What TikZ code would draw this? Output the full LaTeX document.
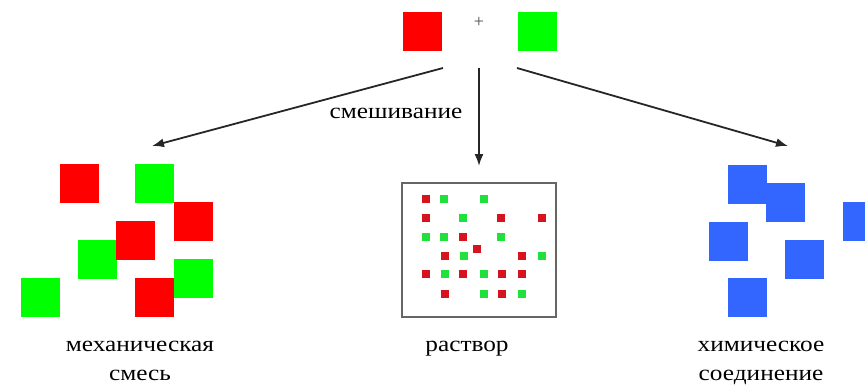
\documentclass[tikz,border=0pt]{standalone}
\usepackage{fontspec}
\setmainfont{Liberation Serif}
\newfontfamily\capfont[FakeStretch=1.15]{Liberation Serif}
\usetikzlibrary{arrows.meta}
\definecolor{sqred}{RGB}{255,0,0}
\definecolor{sqgreen}{RGB}{0,255,0}
\definecolor{sqblue}{RGB}{51,102,255}
\definecolor{dotred}{RGB}{215,20,30}
\definecolor{dotgreen}{RGB}{30,225,60}
\tikzset{
    >={Latex[length=12pt, width=9pt]},
    square/.style={shape=rectangle, minimum size=39pt, inner sep=0pt},
    redsq/.style={square, fill=sqred},
    greensq/.style={square, fill=sqgreen},
    bluesq/.style={square, fill=sqblue},
    dot/.style={shape=rectangle, minimum size=8pt, inner sep=0pt},
    flow/.style={->, line width=1.8pt, black!85},
    caption/.style={font=\capfont\fontsize{22}{29}\selectfont, align=center, anchor=base},
}
\begin{document}
\begin{tikzpicture}[x=1pt, y=-1pt]
    \useasboundingbox (0,0) rectangle (865,384);
    % reactants
    \node[redsq] (reactA) at (422,31) {};
    \node[text=black!70] (plus) at (479,22) {\fontsize{18}{18}\selectfont +};
    \node[greensq] (reactB) at (537,31) {};
    % mechanical mixture
    \foreach \name/\col/\x/\y in {m1/red/79/183.5, m2/green/154.5/183.5, m3/red/193/221.5,
        m4/green/97.5/259, m5/red/135.5/240.5, m6/green/193/278.5, m7/red/154.5/297.5,
        m8/green/40.5/297.5}
        \node[\col sq] (\name) at (\x,\y) {};
    % solution
    \node[draw=black!60, line width=1.5pt, minimum width=154pt, minimum height=134pt,
        inner sep=0pt] (sol) at (479,250) {};
    \foreach \col/\x/\y [count=\i] in {red/426/199, green/444/199, green/484/199,
        red/426/218, green/463/218, red/501/218, red/542/218,
        green/426/237, green/444/237, red/463/237, green/501/237,
        red/477/249,
        red/445/256, green/464/256, red/522/256, green/542/256,
        red/426/274, green/445/274, red/463/274, green/484/274, red/502/274, red/522/274,
        red/445/294, green/484/294, red/502/294, green/522/294}
        \node[dot, fill=dot\col] (d\i) at (\x,\y) {};
    % chemical compound
    \foreach \name/\x/\y in {c1/747.5/184, c2/785.5/202.5, c3/862.5/221, c4/728/241,
        c5/804/259, c6/747.5/297.5}
        \node[bluesq] (\name) at (\x,\y) {};
    % arrows
    \coordinate (outL) at (443,68);
    \coordinate (outM) at (479,68);
    \coordinate (outR) at (517,68);
    \coordinate (inL) at (152,146);
    \coordinate (inM) at (479,166);
    \coordinate (inR) at (788,146);
    \draw[flow] (outL) -- (inL);
    \draw[flow] (outM) -- (inM);
    \draw[flow] (outR) -- (inR);
    \node[caption] (mixing) at (396,118) {смешивание};
    % captions
    \node[caption] (capL) at (140,380) {механическая\\смесь};
    \node[caption] (capM) at (467,351) {раствор};
    \node[caption] (capR) at (761,380) {химическое\\соединение};
\end{tikzpicture}
\end{document}
